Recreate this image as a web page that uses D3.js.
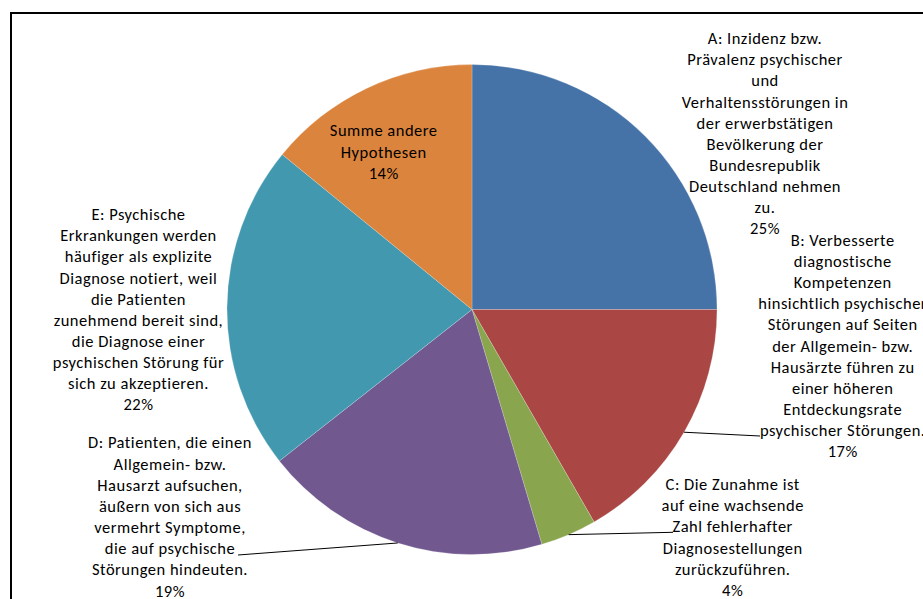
<!DOCTYPE html>
<html><head><meta charset="utf-8">
<script src="https://cdn.jsdelivr.net/npm/d3@7"></script>
<style>html,body{margin:0;padding:0;background:#fff;overflow:hidden}svg{display:block}</style>
</head><body>
<svg id="c" width="923" height="599"></svg>
<script>
// ---- data ----
const categories = ["A", "B", "C", "D", "E", "Summe andere Hypothesen"];
const values = [25.0, 16.7, 3.7, 19.0, 21.5, 14.1];
const labelLines = [
  ["A: Inzidenz bzw.", "Prävalenz psychischer", "und", "Verhaltensstörungen in", "der erwerbstätigen", "Bevölkerung der", "Bundesrepublik", "Deutschland nehmen", "zu."],
  ["B: Verbesserte", "diagnostische", "Kompetenzen", "hinsichtlich psychischer", "Störungen auf Seiten", "der Allgemein- bzw.", "Hausärzte führen zu", "einer höheren", "Entdeckungsrate", "psychischer Störungen."],
  ["C: Die Zunahme ist", "auf eine wachsende", "Zahl fehlerhafter", "Diagnosestellungen", "zurückzuführen."],
  ["D: Patienten, die einen", "Allgemein- bzw.", "Hausarzt aufsuchen,", "äußern von sich aus", "vermehrt Symptome,", "die auf psychische", "Störungen hindeuten."],
  ["E: Psychische", "Erkrankungen werden", "häufiger als explizite", "Diagnose notiert, weil", "die Patienten", "zunehmend bereit sind,", "die Diagnose einer", "psychischen Störung für", "sich zu akzeptieren."],
  ["Summe andere", "Hypothesen"]
];
const colors = ["#4572A7", "#AA4643", "#89A54E", "#71588F", "#4198AF", "#DB843D"];

// ---- layout (label placement, not data) ----
const cx = 472, cy = 309.5, R = 245;
const lineH = 21.15;
const labelPos = [
  {x: 765, y: 38.3, leader: null},
  {x: 842.7, y: 240, leader: [760, 436]},
  {x: 732.7, y: 484.3, leader: [673, 532.3]},
  {x: 170, y: 442.7, leader: [238, 555]},
  {x: 138.5, y: 214.3, leader: null},
  {x: 383.7, y: 130.7, leader: null}
];

const svg = d3.select("#c");
svg.append("rect").attr("x", 11).attr("y", 13).attr("width", 1000).attr("height", 1000)
  .attr("fill", "none").attr("stroke", "#000").attr("stroke-width", 2);

const total = d3.sum(values);
const pie = d3.pie().sort(null).value(d => d)(values);
const arc = d3.arc().innerRadius(0).outerRadius(R);
const g = svg.append("g").attr("transform", `translate(${cx},${cy})`);
g.selectAll("path").data(pie).join("path")
  .attr("d", arc).attr("fill", (d, i) => colors[i])
  .attr("stroke", "rgba(255,255,255,0.35)").attr("stroke-width", 0.6);

const pct = d3.format(".0%");
// leader lines
pie.forEach((d, i) => {
  const lp = labelPos[i];
  if (!lp.leader) return;
  const a = (d.startAngle + d.endAngle) / 2;
  const sx = cx + R * Math.sin(a), sy = cy - R * Math.cos(a);
  svg.append("line").attr("x1", sx).attr("y1", sy).attr("x2", lp.leader[0]).attr("y2", lp.leader[1])
    .attr("stroke", "#000").attr("stroke-width", 1);
});

// labels
pie.forEach((d, i) => {
  const lp = labelPos[i];
  const lines = labelLines[i].concat([pct(values[i] / total)]);
  const t = svg.append("text").attr("text-anchor", "middle")
    .attr("font-family", "Carlito, Lato, 'Open Sans', sans-serif").attr("font-size", 16.5)
    .attr("letter-spacing", 0.5).attr("fill", "#000");
  lines.forEach((s, k) => {
    t.append("tspan").attr("x", lp.x).attr("y", lp.y + k * lineH).attr("dy", "0.35em").text(s);
  });
});
</script>
</body></html>
